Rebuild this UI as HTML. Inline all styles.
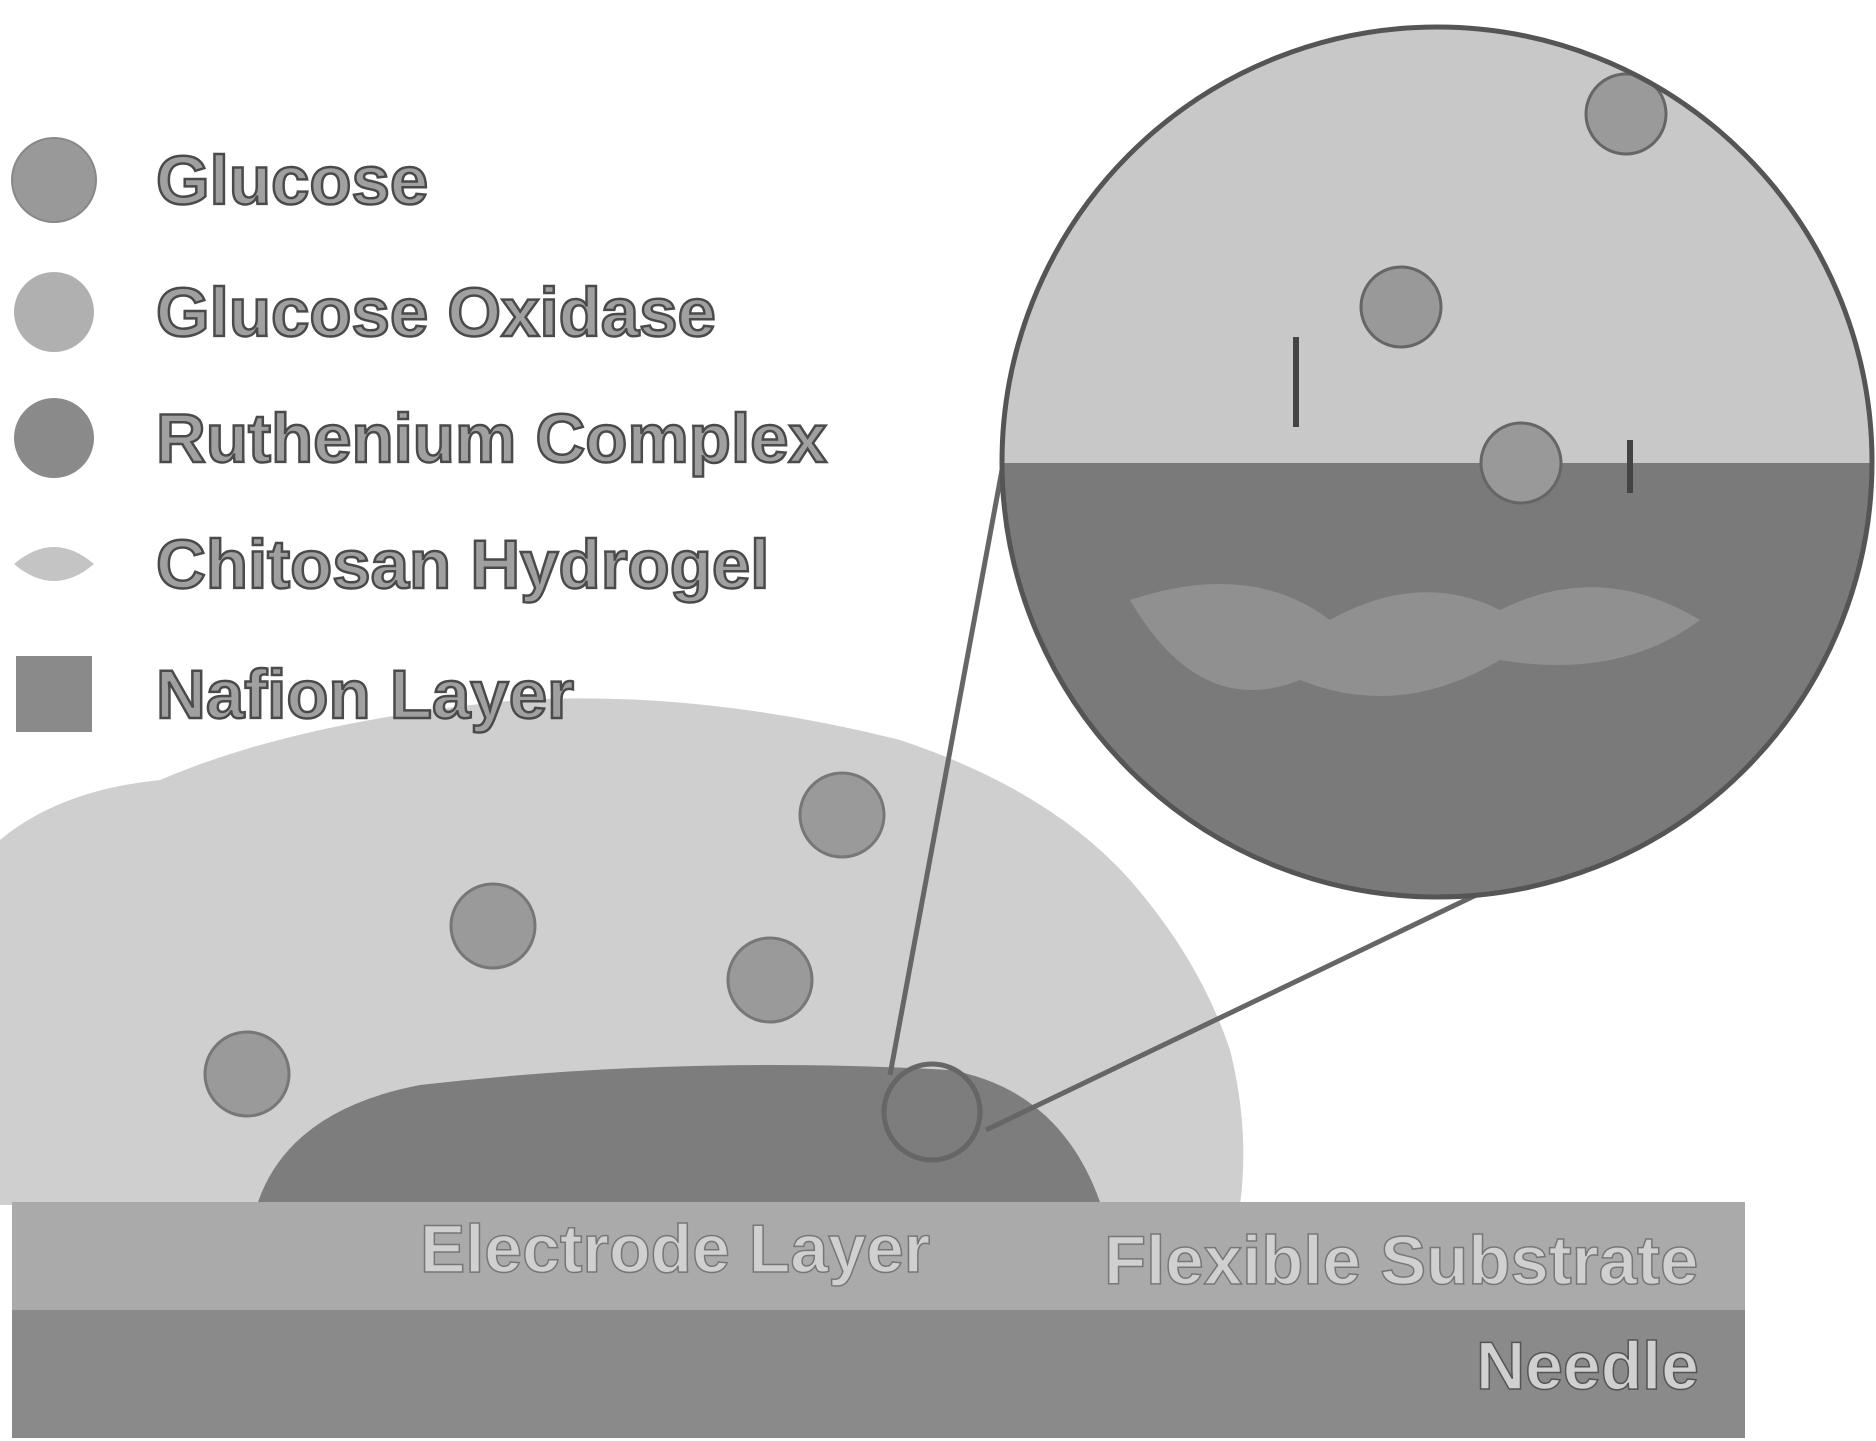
<!DOCTYPE html>
<html><head><meta charset="utf-8"><style>
html,body{margin:0;padding:0;background:#fff;width:1876px;height:1441px;overflow:hidden}
svg{display:block}
text{font-family:"Liberation Sans",sans-serif;font-weight:bold}
</style></head><body>
<svg width="1876" height="1441" viewBox="0 0 1876 1441">
<defs>
<clipPath id="zc"><circle cx="1437" cy="462" r="435"/></clipPath>
</defs>
<path d="M0 840 Q60 790 160 780 Q300 720 520 700 Q700 690 900 740 Q1050 790 1130 880 Q1200 960 1230 1050 Q1250 1130 1240 1205 L0 1205 Z" fill="#cfcfcf"/>
<path d="M258 1202 Q290 1110 420 1085 Q680 1055 950 1070 Q1060 1090 1100 1202 Z" fill="#7d7d7d"/>
<rect x="12" y="1202" width="1733" height="108" fill="#aaaaaa"/>
<rect x="12" y="1310" width="1733" height="128" fill="#8a8a8a"/>
<text x="420" y="1272" font-size="68" fill="#d0d0d0" stroke="#777" stroke-width="1.5">Electrode Layer</text>
<text x="1104" y="1284" font-size="69" fill="#d0d0d0" stroke="#777" stroke-width="1.5">Flexible Substrate</text>
<text x="1476" y="1389" font-size="68" fill="#d0d0d0" stroke="#555" stroke-width="1.5">Needle</text>
<g fill="#9a9a9a" stroke="#777" stroke-width="3">
<circle cx="842" cy="815" r="42"/><circle cx="493" cy="926" r="42"/><circle cx="770" cy="980" r="42"/><circle cx="247" cy="1074" r="42"/>
</g>
<g stroke="#666" stroke-width="5" fill="none">
<line x1="890" y1="1075" x2="1002" y2="470"/>
<line x1="986" y1="1130" x2="1545" y2="862"/>
<circle cx="932" cy="1112" r="48"/>
</g>
<g clip-path="url(#zc)">
<rect x="1000" y="0" width="900" height="463" fill="#c8c8c8"/>
<rect x="1000" y="463" width="900" height="500" fill="#7a7a7a"/>
<circle cx="1626" cy="114" r="40" fill="#9a9a9a" stroke="#666" stroke-width="3"/>
<circle cx="1401" cy="307" r="40" fill="#999" stroke="#666" stroke-width="3"/>
<circle cx="1521" cy="463" r="40" fill="#999" stroke="#666" stroke-width="3"/>
<path d="M1130 600 Q1250 560 1330 620 Q1420 570 1500 610 Q1600 560 1700 620 Q1620 680 1500 660 Q1400 720 1300 680 Q1200 720 1130 600Z" fill="#909090"/>
</g>
<circle cx="1437" cy="462" r="435" fill="none" stroke="#555" stroke-width="5"/>
<g stroke="#444" stroke-width="6"><line x1="1296" y1="337" x2="1296" y2="427"/><line x1="1630" y1="440" x2="1630" y2="493"/></g>
<circle cx="54" cy="180" r="42" fill="#999" stroke="#888" stroke-width="2"/>
<circle cx="54" cy="312" r="40" fill="#b0b0b0"/>
<circle cx="54" cy="438" r="40" fill="#8a8a8a"/>
<path d="M14 564 Q54 530 94 564 Q54 598 14 564Z" fill="#c4c4c4"/>
<rect x="16" y="656" width="76" height="76" fill="#8a8a8a"/>
<g font-size="69" fill="#a0a0a0" stroke="#4a4a4a" stroke-width="2.5">
<text x="156" y="204">Glucose</text>
<text x="156" y="336">Glucose Oxidase</text>
<text x="156" y="462">Ruthenium Complex</text>
<text x="156" y="588">Chitosan Hydrogel</text>
<text x="156" y="718">Nafion Layer</text>
</g>
</svg>
</body></html>
